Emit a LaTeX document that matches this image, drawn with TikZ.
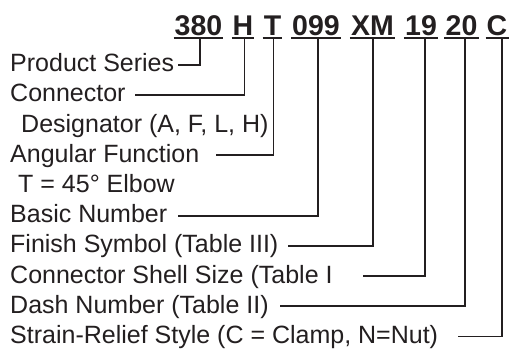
\documentclass[tikz,border=0pt]{standalone}
\usepackage{fontspec}
\setmainfont{Liberation Sans}
\definecolor{ink}{HTML}{231F20}
\begin{document}
\begin{tikzpicture}[x=1pt,y=-1pt,
  lbl/.style={anchor=base west,inner sep=0pt,font=\fontsize{25}{28}\selectfont,text=ink},
  hdr/.style={anchor=base,inner sep=0pt,inner xsep=1pt,font=\fontsize{28.5}{32}\selectfont\bfseries,text=ink},
  uline/.style={line width=2pt,draw=ink},
  conn/.style={line width=1.8pt,draw=ink}]
\useasboundingbox[fill=white] (0,0) rectangle (510,352);
% header
\node[hdr] (w380) at (198.5,36) {380};
\node[hdr] (wH) at (243,36) {H};
\node[hdr] (wT) at (272.5,36) {T};
\node[hdr] (w099) at (316,36) {099};
\node[hdr] (wXM) at (372.5,36) {XM};
\node[hdr] (w19) at (421,36) {19};
\node[hdr] (w20) at (461.5,36) {20};
\node[hdr] (wC) at (497,36) {C};
\foreach \w in {w380,wH,wT,w099,wXM,w19,w20,wC}
  \draw[uline] (\w.west |- 0,38.5) -- (\w.east |- 0,38.5);
% labels
\node[lbl] (l0) at (10,71.7) {Product Series};
\node[lbl] (l1) at (10,101.9) {Connector};
\node[lbl] (l2) at (21,132.1) {Designator (A, F, L, H)};
\node[lbl] (l3) at (10,162.3) {Angular Function};
\node[lbl] (l4) at (18,192.5) {T = 45° Elbow};
\node[lbl] (l5) at (10,222.7) {Basic Number};
\node[lbl] (l6) at (10,252.9) {Finish Symbol (Table III)};
\node[lbl] (l7) at (10,283.1) {Connector Shell Size (Table I};
\node[lbl] (l8) at (10,313.3) {Dash Number (Table II)};
\node[lbl] (l9) at (10,343.5) {Strain-Relief Style (C = Clamp, N=Nut)};
% connector tops
\coordinate (t0) at (200,39.5);
\coordinate (t1) at (244.5,39.5);
\coordinate (t3) at (273.5,39.5);
\coordinate (t5) at (318.3,39.5);
\coordinate (t6) at (373.3,39.5);
\coordinate (t7) at (425,39.5);
\coordinate (t8) at (465,39.5);
\coordinate (t9) at (502,39.5);
% connector left ends
\coordinate (e0) at (178,64.7);
\coordinate (e1) at (135,95);
\coordinate (e3) at (216,155.3);
\coordinate (e5) at (178,215.7);
\coordinate (e6) at (288,245.9);
\coordinate (e7) at (363,276.1);
\coordinate (e8) at (280,306.3);
\coordinate (e9) at (458,336.5);
\foreach \i in {0,1,3,5,6,7,8,9}
  \draw[conn] (t\i) |- (e\i);
\end{tikzpicture}
\end{document}
